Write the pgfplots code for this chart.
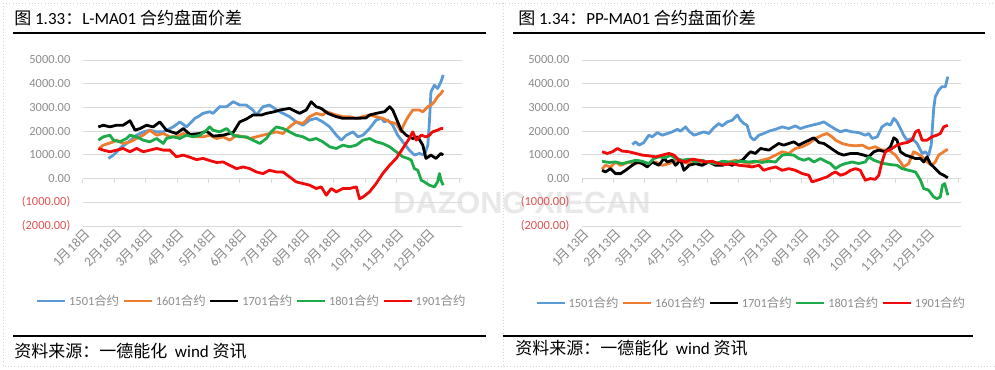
\documentclass[border=0pt]{standalone}
\usepackage{pgfplots}
\pgfplotsset{compat=1.18}
\usepackage{fontspec}
\setmainfont{Carlito}
\newfontfamily\cjk{Noto Sans CJK SC}
\newfontfamily\wmfont{Liberation Sans}
\definecolor{cblue}{HTML}{5B9BD5}
\definecolor{corange}{HTML}{ED7D31}
\definecolor{cgreen}{HTML}{1DAA4A}
\definecolor{cred}{HTML}{F00A0A}
\definecolor{tickgray}{HTML}{8C8C8C}
\definecolor{negred}{HTML}{E05252}
\definecolor{gridgray}{HTML}{D9D9D9}
\newcommand\md[2]{#1{\cjk 月}#2{\cjk 日}}
\newcommand\smallfnt{\fontsize{9.3}{11}\selectfont}
\newcommand\xfnt{\fontsize{10}{12}\selectfont}
\newcommand\bigfnt{\fontsize{12.75}{15}\selectfont}
\pgfplotsset{panel/.style={
  anchor=south west, scale only axis, width=284.25pt, height=124.5pt,
  xmin=0, xmax=12.09, ymin=-2000, ymax=5000,
  ytick={-2000,-1000,...,5000},
  yticklabels={\textcolor{negred}{(2000.00)},\textcolor{negred}{(1000.00)},0.00,1000.00,2000.00,3000.00,4000.00,5000.00},
  ymajorgrids, grid style={gridgray, line width=0.75pt},
  axis line style={draw=none},
  major tick length=0pt,
  xtick={0,...,11},
  x tick label style={rotate=45, anchor=east, font=\xfnt, text=tickgray, inner sep=1pt, yshift=-5.5pt, xshift=1pt},
  y tick label style={font=\smallfnt, text=tickgray, xshift=-6pt},
  every axis plot/.append style={line width=2.1pt, no markers, line join=round},
  legend columns=5,
  legend style={draw=none, fill=none, anchor=center, font=\smallfnt, text=tickgray,
    /tikz/every even column/.append style={column sep=0.5pt}},
  legend image code/.code={\draw[##1, line width=2pt] (0pt,0pt) -- (21pt,0pt);},
  clip=false,
}}
\begin{document}
\begin{tikzpicture}
\begin{scope}[x=0.75pt,y=-0.75pt]
\useasboundingbox (0,0) rectangle (995,369);
\fill[white] (0,0) rectangle (995,369);
\draw[gray!35, dotted] (3,3) -- (995,3);
\draw[gray!35, dotted] (3,3) -- (3,366) -- (995,366);
\draw[gray!35, dotted] (503,3) -- (503,366);
\node[anchor=center, text=black!9, font=\wmfont\bfseries\fontsize{23}{26}\selectfont] at (522,203) {DAZONG XIECAN};
\node[anchor=base west, inner sep=0pt, font=\bigfnt] at (14,24) {{\cjk 图} 1.33{\cjk ：}L-MA01 {\cjk 合约盘面价差}};
\node[anchor=base west, inner sep=0pt, font=\bigfnt] at (518,24) {{\cjk 图} 1.34{\cjk ：}PP-MA01 {\cjk 合约盘面价差}};
\draw[line width=1.6pt] (13,33) -- (486,33);
\draw[line width=1.6pt] (513,33) -- (985,33);
\draw[line width=1.6pt] (13,336) -- (486,336);
\draw[line width=1.6pt] (503,336) -- (973,336);
\node[anchor=base west, inner sep=0pt, font=\bigfnt] at (14,357) {{\cjk 资料来源：一德能化}\ \ wind {\cjk 资讯}};
\node[anchor=base west, inner sep=0pt, font=\bigfnt] at (515,354) {{\cjk 资料来源：一德能化}\ \ wind {\cjk 资讯}};
\end{scope}

% ---------------- left panel ----------------
\begin{axis}[panel, at={(62.25pt,-169.5pt)},
  xticklabels={\md{1}{18},\md{2}{18},\md{3}{18},\md{4}{18},\md{5}{18},\md{6}{18},\md{7}{18},\md{8}{18},\md{9}{18},\md{10}{18},\md{11}{18},\md{12}{18}},
  legend style={at={(0.446,-0.452)}}]
\pgfplotsinvokeforeach{0,...,12}{\draw[gridgray, line width=0.75pt] (axis cs:#1,0) -- ++(0pt,-3pt);}
\addplot[cblue] coordinates {(0.81,850)(0.97,990)(1.13,1200)(1.23,1340)(1.39,1480)(1.50,1600)(1.71,1830)(1.92,1970)(2.13,2040)(2.35,1970)(2.56,1970)(2.88,2180)(3.09,2390)(3.30,2180)(3.57,2540)(3.67,2610)(3.83,2750)(4.04,2820)(4.15,2750)(4.36,3030)(4.58,3030)(4.79,3240)(5.00,3100)(5.21,3100)(5.42,2890)(5.53,2680)(5.74,3030)(5.95,3100)(6.11,2960)(6.17,2890)(6.38,2750)(6.59,2610)(6.80,2390)(7.02,2250)(7.23,2470)(7.44,2540)(7.65,2390)(7.87,2180)(8.08,1830)(8.24,1620)(8.40,1830)(8.61,1970)(8.77,1760)(8.93,1830)(9.14,2110)(9.35,2470)(9.51,2540)(9.62,2390)(9.72,2470)(9.88,2250)(10.04,1830)(10.20,1550)(10.41,1200)(10.57,990)(10.73,1060)(10.89,990)(11.00,1410)(11.05,2390)(11.10,3660)(11.21,3940)(11.31,3800)(11.42,4080)(11.49,4370)};
\addlegendentry{1501{\cjk 合约}}
\addplot[corange] coordinates {(0.54,1300)(0.65,1410)(0.81,1480)(0.97,1550)(1.07,1620)(1.28,1480)(1.50,1550)(1.71,1690)(1.92,1830)(2.13,2040)(2.35,1830)(2.56,1900)(2.77,1760)(2.98,1760)(3.20,1900)(3.41,1830)(3.62,1760)(3.83,1760)(4.04,1830)(4.26,1690)(4.47,1760)(4.68,1620)(4.90,1830)(5.11,1760)(5.32,1690)(5.53,1760)(5.74,1830)(5.95,1900)(6.17,1970)(6.38,1900)(6.59,2180)(6.80,2390)(7.02,2320)(7.23,2610)(7.44,2750)(7.65,2680)(7.76,2820)(8.08,2680)(8.29,2610)(8.50,2610)(8.72,2540)(8.93,2610)(9.14,2680)(9.35,2610)(9.56,2540)(9.78,2390)(9.99,2320)(10.15,1970)(10.20,2180)(10.31,2470)(10.41,2680)(10.52,2890)(10.73,2890)(10.84,2820)(11.00,3030)(11.10,3100)(11.21,3240)(11.31,3450)(11.42,3590)(11.49,3730)};
\addlegendentry{1601{\cjk 合约}}
\addplot[black] coordinates {(0.49,2180)(0.65,2250)(0.86,2180)(1.07,2250)(1.28,2250)(1.50,2440)(1.66,2040)(1.82,2110)(2.03,2250)(2.24,2180)(2.45,2390)(2.66,2040)(2.98,1900)(3.20,2110)(3.41,1860)(3.73,1900)(3.94,2000)(4.15,1790)(4.47,1830)(4.79,1940)(5.00,2390)(5.21,2510)(5.42,2680)(5.69,2680)(5.85,2750)(6.11,2820)(6.27,2890)(6.59,2960)(6.91,2750)(7.12,2890)(7.28,3240)(7.44,3030)(7.60,2960)(7.81,2750)(8.08,2610)(8.29,2540)(8.72,2540)(9.03,2560)(9.14,2680)(9.35,2750)(9.62,2820)(9.78,3030)(9.88,2890)(10.04,2390)(10.15,2040)(10.31,1830)(10.52,1690)(10.68,1760)(10.84,1410)(10.94,850)(11.10,990)(11.26,850)(11.42,1060)(11.49,990)};
\addlegendentry{1701{\cjk 合约}}
\addplot[cgreen] coordinates {(0.49,1620)(0.65,1760)(0.86,1830)(0.97,1620)(1.18,1550)(1.39,1690)(1.50,1830)(1.71,1760)(1.92,1620)(2.13,1550)(2.35,1690)(2.56,1480)(2.66,1690)(2.88,1760)(3.09,1690)(3.30,1830)(3.51,1760)(3.73,1830)(3.94,2040)(4.04,2180)(4.15,2040)(4.36,1970)(4.58,2110)(4.79,1830)(5.00,1760)(5.21,1760)(5.42,1620)(5.64,1480)(5.85,1690)(6.00,1970)(6.17,2180)(6.38,2110)(6.59,1970)(6.80,1830)(7.02,1760)(7.23,1620)(7.44,1690)(7.65,1550)(7.87,1340)(8.08,1270)(8.29,1410)(8.50,1340)(8.72,1410)(8.93,1620)(9.14,1690)(9.35,1550)(9.56,1480)(9.78,1340)(9.99,1130)(10.20,920)(10.36,850)(10.47,780)(10.57,420)(10.68,350)(10.79,-70)(10.89,-140)(11.05,-280)(11.21,-350)(11.31,-140)(11.37,210)(11.42,-70)(11.49,-280)};
\addlegendentry{1801{\cjk 合约}}
\addplot[cred] coordinates {(0.49,1270)(0.65,1200)(0.86,1130)(1.07,1200)(1.28,1270)(1.50,1130)(1.71,1270)(1.92,1130)(2.13,1200)(2.35,1270)(2.56,1200)(2.77,1200)(2.98,920)(3.20,990)(3.41,900)(3.62,800)(3.83,850)(4.04,760)(4.26,680)(4.47,700)(4.68,560)(4.90,420)(5.11,490)(5.32,420)(5.53,280)(5.74,210)(5.95,350)(6.17,280)(6.38,280)(6.59,70)(6.80,-140)(7.02,-210)(7.23,-280)(7.44,-420)(7.60,-350)(7.76,-700)(7.92,-420)(8.08,-560)(8.29,-420)(8.50,-420)(8.72,-350)(8.82,-850)(8.93,-780)(9.14,-560)(9.35,-210)(9.56,210)(9.78,560)(9.99,850)(10.20,1270)(10.41,1690)(10.52,1970)(10.63,1620)(10.79,1830)(10.94,1760)(11.05,1830)(11.15,1970)(11.31,2040)(11.42,2110)(11.49,2110)};
\addlegendentry{1901{\cjk 合约}}
\end{axis}

% ---------------- right panel ----------------
\begin{axis}[panel, at={(436.5pt,-169.5pt)}, xmax=12.08,
  xticklabels={\md{1}{13},\md{2}{13},\md{3}{13},\md{4}{13},\md{5}{13},\md{6}{13},\md{7}{13},\md{8}{13},\md{9}{13},\md{10}{13},\md{11}{13},\md{12}{13}},
  legend style={at={(0.447,-0.464)}}]
\pgfplotsinvokeforeach{0,...,12}{\draw[gridgray, line width=0.75pt] (axis cs:#1,0) -- ++(0pt,-3pt);}
\addplot[cblue] coordinates {(1.60,1440)(1.71,1550)(1.82,1410)(1.97,1520)(2.13,1830)(2.24,1760)(2.40,1940)(2.56,1830)(2.72,1900)(2.88,1970)(3.04,2080)(3.14,2000)(3.30,2180)(3.41,2000)(3.57,1830)(3.73,1900)(3.88,1970)(4.04,1900)(4.20,2140)(4.36,2320)(4.47,2220)(4.63,2390)(4.79,2460)(4.95,2680)(5.05,2460)(5.16,2320)(5.26,2250)(5.37,1760)(5.48,1620)(5.64,1830)(5.79,1900)(5.96,2000)(6.17,2080)(6.38,2180)(6.59,2110)(6.80,2220)(6.96,2110)(7.12,2180)(7.33,2250)(7.55,2320)(7.71,2390)(7.87,2250)(8.08,2080)(8.24,1970)(8.40,2040)(8.61,1970)(8.82,1940)(9.03,1830)(9.14,1900)(9.25,1690)(9.41,1760)(9.56,2180)(9.72,2320)(9.83,2250)(9.94,2540)(10.04,2390)(10.15,2110)(10.25,1830)(10.36,1620)(10.52,1690)(10.68,1480)(10.84,1060)(10.94,1130)(11.05,990)(11.13,1410)(11.21,2960)(11.26,3450)(11.37,3730)(11.47,3870)(11.58,3870)(11.66,4300)};
\addlegendentry{1501{\cjk 合约}}
\addplot[corange] coordinates {(0.64,400)(0.75,560)(0.91,490)(1.07,700)(1.23,560)(1.50,700)(1.71,630)(1.92,700)(2.13,630)(2.35,700)(2.56,560)(2.77,630)(2.98,775)(3.20,700)(3.41,630)(3.62,700)(3.83,630)(4.04,700)(4.26,630)(4.47,700)(4.68,700)(4.90,770)(5.11,700)(5.32,630)(5.53,700)(5.74,775)(5.95,845)(6.17,990)(6.38,1130)(6.59,1060)(6.80,1270)(7.02,1340)(7.23,1480)(7.44,1690)(7.65,1830)(7.81,1900)(7.97,1760)(8.08,1620)(8.29,1480)(8.50,1410)(8.72,1380)(8.93,1410)(9.14,1270)(9.35,1340)(9.56,1200)(9.78,1200)(9.99,990)(10.15,700)(10.25,490)(10.41,630)(10.57,1130)(10.68,1060)(10.84,920)(11.00,700)(11.15,560)(11.26,700)(11.37,990)(11.53,1130)(11.66,1240)};
\addlegendentry{1601{\cjk 合约}}
\addplot[black] coordinates {(0.64,350)(0.75,280)(0.91,420)(1.07,210)(1.23,210)(1.39,350)(1.60,560)(1.76,700)(1.92,630)(2.08,490)(2.24,700)(2.45,560)(2.61,845)(2.72,700)(2.88,775)(2.98,560)(3.14,775)(3.25,350)(3.41,560)(3.62,630)(3.83,560)(4.04,700)(4.26,560)(4.47,560)(4.63,630)(4.79,560)(4.95,700)(5.11,775)(5.26,990)(5.37,1130)(5.53,1060)(5.69,1270)(5.96,1200)(6.11,1340)(6.27,1480)(6.43,1410)(6.59,1480)(6.75,1550)(6.91,1410)(7.07,1520)(7.23,1620)(7.39,1720)(7.55,1520)(7.71,1480)(7.87,1340)(8.02,1200)(8.18,1060)(8.34,990)(8.56,1060)(8.77,1060)(8.98,990)(9.14,920)(9.30,1130)(9.46,1200)(9.67,1130)(9.83,1340)(9.94,1720)(10.04,1620)(10.15,1130)(10.31,990)(10.47,920)(10.63,845)(10.79,845)(10.89,700)(11.00,920)(11.10,630)(11.21,490)(11.31,350)(11.42,210)(11.53,140)(11.66,30)};
\addlegendentry{1701{\cjk 合约}}
\addplot[cgreen] coordinates {(0.64,730)(0.86,680)(1.07,700)(1.28,630)(1.50,700)(1.71,775)(1.92,730)(2.13,630)(2.29,845)(2.45,915)(2.66,880)(2.82,990)(2.98,845)(3.20,775)(3.41,820)(3.62,700)(3.83,775)(4.04,680)(4.26,630)(4.47,730)(4.68,700)(4.90,700)(5.11,730)(5.32,700)(5.53,730)(5.74,680)(5.95,730)(6.17,700)(6.38,990)(6.54,1020)(6.75,990)(6.91,845)(7.07,775)(7.23,845)(7.39,700)(7.60,845)(7.76,730)(7.92,635)(8.08,420)(8.24,560)(8.40,635)(8.61,700)(8.82,635)(9.03,700)(9.14,915)(9.30,775)(9.46,700)(9.62,635)(9.83,590)(10.04,560)(10.20,420)(10.41,350)(10.63,280)(10.79,-70)(10.89,-420)(11.05,-490)(11.21,-775)(11.31,-845)(11.42,-775)(11.49,-280)(11.56,-210)(11.66,-700)};
\addlegendentry{1801{\cjk 合约}}
\addplot[cred] coordinates {(0.64,1130)(0.81,1060)(0.97,1130)(1.13,1270)(1.28,1160)(1.50,1130)(1.71,1060)(1.92,990)(2.13,960)(2.35,915)(2.56,990)(2.77,1060)(2.93,990)(3.09,775)(3.30,700)(3.51,820)(3.73,775)(3.94,700)(4.15,730)(4.36,630)(4.58,590)(4.79,630)(5.00,560)(5.21,535)(5.42,490)(5.64,563)(5.79,350)(5.95,420)(6.17,490)(6.38,350)(6.59,420)(6.80,350)(7.02,210)(7.23,140)(7.33,-140)(7.50,-70)(7.65,0)(7.81,70)(7.97,210)(8.08,280)(8.24,140)(8.40,210)(8.56,350)(8.72,420)(8.87,350)(9.03,-70)(9.19,0)(9.35,-30)(9.46,140)(9.56,700)(9.67,1130)(9.78,1200)(9.88,1270)(10.04,1410)(10.20,1480)(10.36,1520)(10.52,1620)(10.63,1970)(10.73,2040)(10.84,1620)(11.00,1620)(11.15,1760)(11.31,1830)(11.42,1900)(11.53,2180)(11.66,2250)};
\addlegendentry{1901{\cjk 合约}}
\end{axis}
\end{tikzpicture}
\end{document}
